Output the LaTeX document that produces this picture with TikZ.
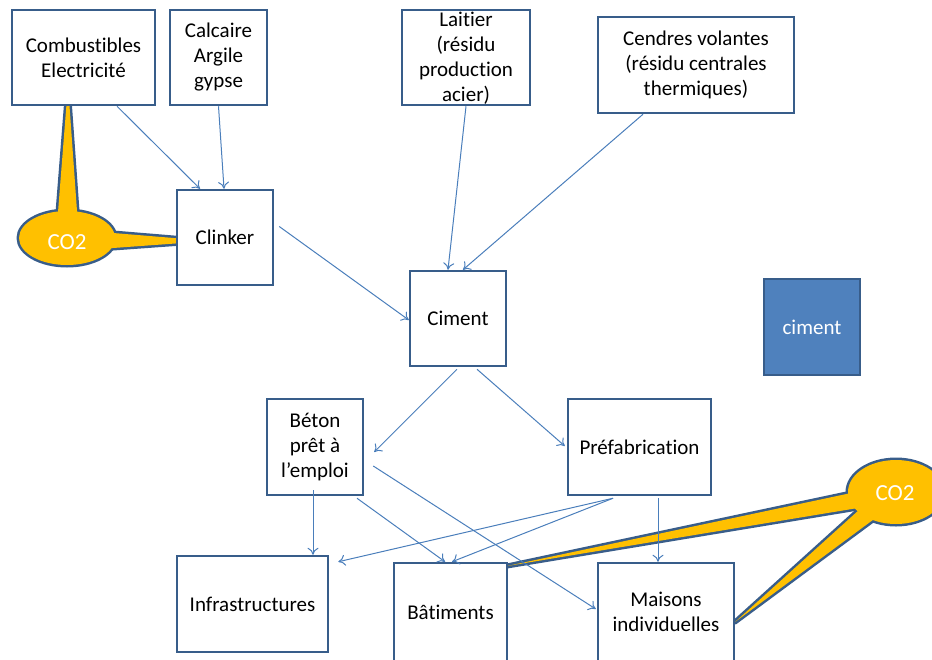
\documentclass[tikz,border=0pt]{standalone}
\usepackage{fontspec}
\setmainfont{Carlito}[Ligatures={NoCommon}]
\usetikzlibrary{arrows.meta}
\definecolor{bord}{RGB}{56,93,138}
\definecolor{arr}{RGB}{74,126,187}
\definecolor{coy}{RGB}{255,192,0}
\definecolor{fillb}{RGB}{79,129,189}
\begin{document}
\begin{tikzpicture}[x=1pt,y=-1pt,
  box/.style={draw=bord,line width=2.5pt,fill=white,align=center,inner sep=0pt,
    font=\fontsize{21}{25}\selectfont},
  txt/.style={align=center,inner sep=0pt,font=\fontsize{21}{25}\selectfont},
  conn/.style={draw=arr,line width=1pt,-{To[length=7pt,width=11pt]}},
  cstroke/.style={draw=bord,line width=5pt,line join=round},
  cfill/.style={fill=coy}]
\useasboundingbox (0,0) rectangle (932,659);

% CO2 callouts (stroke then fill to merge outlines)
\foreach \s in {cstroke,cfill}{
  \path[\s] (67,238) ellipse [x radius=48, y radius=27];
  \path[\s] (57,225) -- (68,85) -- (78,225) -- cycle;
  \path[\s] (95,231.5) -- (210,241) -- (95,249.3) -- cycle;
  \path[\s] (896,492) ellipse [x radius=48, y radius=32];
  \path[\s] (870,489) -- (507,566) -- (870,506) -- cycle;
  \path[\s] (870,500) -- (735,622) -- (885,511) -- cycle;
}
\node[txt,text=white,font=\fontsize{23}{25}\selectfont] (co2a) at (67,242) {CO2};
\node[txt,text=white,font=\fontsize{23}{25}\selectfont] (co2b) at (895,493) {CO2};

% boxes
\node[box,minimum width=143pt,minimum height=95pt] (comb) at (83.5,57.5) {Combustibles\\Electricité};
\node[box,minimum width=97pt,minimum height=95pt] (calc) at (218.5,57.5) {Calcaire\\Argile\\gypse};
\node[box,minimum width=128pt,minimum height=95pt] (lait) at (466,57.5) {};
\node[txt] (laittxt) at (466,58) {Laitier\\(résidu\\production\\acier)};
\node[box,minimum width=196pt,minimum height=96pt] (cend) at (696,65) {Cendres volantes\\(résidu centrales\\thermiques)};
\node[box,minimum width=96pt,minimum height=95pt] (clink) at (225,237.5) {Clinker};
\node[box,minimum width=96pt,minimum height=95pt] (cim) at (458,318.5) {Ciment};
\node[box,fill=fillb,text=white,minimum width=96pt,minimum height=96pt] (cim2) at (812,327) {ciment};
\node[box,minimum width=96pt,minimum height=96pt] (bet) at (315,447) {Béton\\prêt à\\l’emploi};
\node[box,minimum width=143pt,minimum height=96pt] (pref) at (639.5,447) {Préfabrication};
\node[box,minimum width=151pt,minimum height=96pt] (infra) at (252.5,604) {Infrastructures};
\node[box,minimum width=113pt,minimum height=98pt] (bat) at (450.5,612) {Bâtiments};
\node[box,minimum width=136pt,minimum height=98pt] (mais) at (666,612) {Maisons\\individuelles};

% connectors
\draw[conn] ([xshift=33.5pt]comb.south) -- ([xshift=-25pt]clink.north);
\draw[conn] (calc.south) -- ([xshift=-1pt]clink.north);
\draw[conn] (lait.south) -- ([xshift=-10pt]cim.north);
\draw[conn] ([xshift=-53pt]cend.south) -- ([xshift=5pt]cim.north);
\draw[conn] ([xshift=5pt,yshift=11pt]clink.east) -- ([yshift=-1.5pt]cim.west);
\draw[conn] ([xshift=-1pt,yshift=-2pt]cim.south) -- ([xshift=10pt,yshift=-5pt]bet.east);
\draw[conn] ([xshift=19pt,yshift=-2pt]cim.south) -- ([xshift=-2pt,yshift=1pt]pref.west);
\draw[conn] ([xshift=-2pt,yshift=6pt]bet.south) -- ([xshift=60.5pt]infra.north);
\draw[conn] ([xshift=42pt,yshift=-2pt]bet.south) -- ([xshift=-5.5pt]bat.north);
\draw[conn] ([xshift=9pt,yshift=-19pt]bet.east) -- ([xshift=-1pt,yshift=3pt]mais.west);
\draw[conn] ([xshift=-26.5pt,yshift=-2pt]pref.south) -- ([xshift=9pt,yshift=-7pt]infra.north east);
\draw[conn] ([xshift=-26.5pt,yshift=-2pt]pref.south) -- ([xshift=1.5pt]bat.north);
\draw[conn] ([xshift=18.5pt,yshift=-2pt]pref.south) -- ([xshift=-8pt]mais.north);
\end{tikzpicture}
\end{document}
